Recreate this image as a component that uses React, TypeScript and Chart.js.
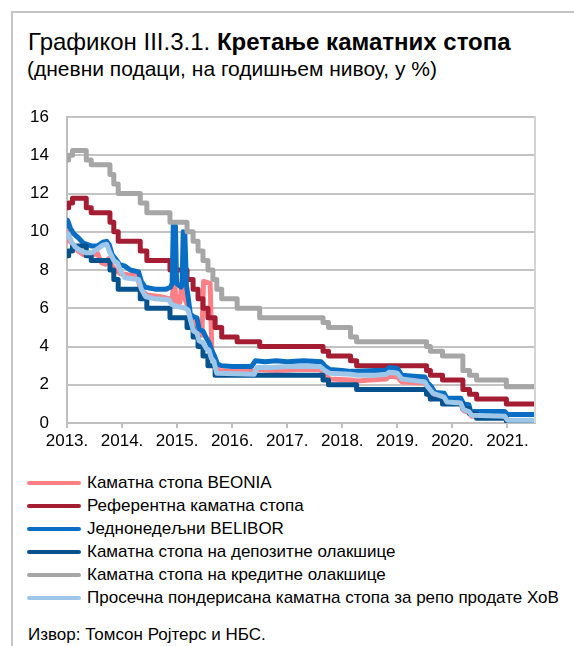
import React, { useEffect, useRef } from "react";
import { Chart, registerables } from "chart.js";

Chart.register(...registerables);

const FONT = "'Liberation Sans', Arial, sans-serif";

const yearTicks = [2013, 2014, 2015, 2016, 2017, 2018, 2019, 2020, 2021];
const xMin = 2013;
const xMax = 2021.5;

// Каматна стопа BEONIA
const beoniaDates = [2013.0, 2013.02, 2013.06, 2013.12, 2013.2, 2013.3, 2013.4, 2013.48, 2013.55, 2013.62, 2013.7, 2013.76, 2013.8, 2013.88, 2013.98, 2014.1, 2014.28, 2014.33, 2014.45, 2014.7, 2014.85, 2014.9, 2014.95, 2014.98, 2015.05, 2015.09, 2015.13, 2015.18, 2015.24, 2015.3, 2015.38, 2015.45, 2015.48, 2015.6, 2015.63, 2015.67, 2015.71, 2015.76, 2016.0, 2016.4, 2016.45, 2016.8, 2017.2, 2017.6, 2017.68, 2017.77, 2018.15, 2018.27, 2018.5, 2018.8, 2018.85, 2019.0, 2019.08, 2019.5, 2019.55, 2019.6, 2019.65, 2019.85, 2019.9, 2020.15, 2020.2, 2020.3, 2020.35, 2020.95, 2021.0, 2021.5];
const beoniaValues = [9.4, 10.0, 9.5, 9.3, 9.0, 8.8, 8.75, 8.8, 8.9, 8.4, 8.3, 8.6, 8.3, 8.0, 7.8, 7.75, 7.7, 7.0, 6.7, 6.6, 6.5, 6.3, 7.6, 6.3, 6.3, 7.5, 6.6, 6.2, 5.6, 5.2, 4.9, 4.6, 7.4, 7.3, 3.8, 3.4, 2.9, 2.75, 2.7, 2.7, 2.8, 2.75, 2.8, 2.8, 2.55, 2.3, 2.25, 2.2, 2.25, 2.3, 2.45, 2.4, 2.15, 2.1, 1.8, 1.25, 1.45, 1.3, 1.05, 1.0, 0.65, 0.55, 0.35, 0.3, 0.12, 0.12];

// Референтна каматна стопа (step: value holds from its date)
const refDates = [2013.0, 2013.03, 2013.1, 2013.35, 2013.44, 2013.78, 2013.85, 2013.93, 2014.33, 2014.45, 2014.87, 2015.18, 2015.29, 2015.38, 2015.47, 2015.56, 2015.69, 2015.81, 2016.09, 2016.5, 2017.65, 2017.75, 2018.15, 2018.26, 2019.53, 2019.6, 2019.82, 2020.19, 2020.31, 2020.44, 2020.98, 2021.5];
const refValues = [11.25, 11.5, 11.75, 11.25, 11.0, 10.5, 10.0, 9.5, 9.0, 8.5, 8.0, 7.5, 7.0, 6.5, 6.0, 5.5, 5.0, 4.5, 4.25, 4.0, 3.75, 3.5, 3.25, 3.0, 2.75, 2.5, 2.25, 1.75, 1.5, 1.25, 1.0, 1.0];

// Једнонедељни BELIBOR
const beliborDates = [2013.0, 2013.01, 2013.06, 2013.12, 2013.2, 2013.3, 2013.45, 2013.55, 2013.65, 2013.72, 2013.77, 2013.82, 2013.88, 2013.95, 2014.05, 2014.15, 2014.3, 2014.35, 2014.42, 2014.6, 2014.8, 2014.88, 2014.91, 2014.93, 2014.97, 2014.99, 2015.07, 2015.09, 2015.11, 2015.14, 2015.17, 2015.2, 2015.24, 2015.3, 2015.36, 2015.4, 2015.47, 2015.52, 2015.58, 2015.63, 2015.68, 2015.73, 2015.8, 2016.0, 2016.35, 2016.42, 2016.6, 2016.8, 2017.0, 2017.3, 2017.62, 2017.68, 2017.77, 2018.0, 2018.15, 2018.3, 2018.6, 2018.8, 2018.85, 2019.0, 2019.08, 2019.3, 2019.5, 2019.55, 2019.62, 2019.68, 2019.85, 2019.9, 2020.15, 2020.2, 2020.3, 2020.33, 2020.95, 2021.0, 2021.5];
const beliborValues = [10.3, 10.6, 10.2, 9.9, 9.7, 9.4, 9.25, 9.25, 9.45, 9.5, 9.3, 8.8, 8.6, 8.3, 8.2, 8.0, 7.9, 7.4, 7.1, 7.0, 7.0, 7.1, 7.3, 10.35, 10.3, 7.3, 7.1, 7.2, 10.0, 9.9, 7.2, 6.6, 5.7, 5.55, 5.5, 4.9, 4.8, 4.5, 4.2, 3.8, 3.5, 3.1, 3.0, 2.95, 2.95, 3.25, 3.2, 3.25, 3.2, 3.25, 3.2, 3.0, 2.8, 2.75, 2.7, 2.7, 2.75, 2.75, 2.9, 2.85, 2.5, 2.45, 2.4, 2.1, 1.9, 1.6, 1.55, 1.3, 1.3, 1.0, 0.95, 0.6, 0.6, 0.45, 0.45];

// Каматна стопа на депозитне олакшице (step)
const depDates = [2013.0, 2013.03, 2013.1, 2013.35, 2013.44, 2013.78, 2013.85, 2013.93, 2014.33, 2014.45, 2014.87, 2015.18, 2015.29, 2015.38, 2015.47, 2015.56, 2015.69, 2017.65, 2017.75, 2018.26, 2019.53, 2019.6, 2019.82, 2020.19, 2020.31, 2020.44, 2020.98, 2021.5];
const depValues = [8.75, 9.0, 9.25, 8.75, 8.5, 8.0, 7.5, 7.0, 6.5, 6.0, 5.5, 5.0, 4.5, 4.0, 3.5, 3.0, 2.5, 2.25, 2.0, 1.75, 1.5, 1.25, 1.0, 0.75, 0.5, 0.25, 0.1, 0.1];

// Каматна стопа на кредитне олакшице (step)
const creditDates = [2013.0, 2013.03, 2013.1, 2013.35, 2013.44, 2013.78, 2013.85, 2013.93, 2014.33, 2014.45, 2014.87, 2015.18, 2015.29, 2015.38, 2015.47, 2015.56, 2015.65, 2015.72, 2015.81, 2016.09, 2016.5, 2017.65, 2017.75, 2018.15, 2018.26, 2019.53, 2019.6, 2019.82, 2020.19, 2020.31, 2020.44, 2020.98, 2021.5];
const creditValues = [13.75, 14.0, 14.25, 13.75, 13.5, 13.0, 12.5, 12.0, 11.5, 11.0, 10.5, 10.0, 9.5, 9.0, 8.5, 8.0, 7.5, 7.0, 6.5, 6.0, 5.5, 5.25, 5.0, 4.5, 4.25, 4.0, 3.75, 3.5, 2.75, 2.5, 2.25, 1.9, 1.9];

// Просечна пондерисана каматна стопа за репо продате ХоВ
const repoDates = [2013.0, 2013.02, 2013.08, 2013.15, 2013.25, 2013.35, 2013.45, 2013.55, 2013.65, 2013.72, 2013.78, 2013.85, 2013.92, 2013.98, 2014.05, 2014.3, 2014.35, 2014.43, 2014.6, 2014.85, 2014.9, 2015.0, 2015.15, 2015.2, 2015.25, 2015.3, 2015.36, 2015.4, 2015.47, 2015.53, 2015.58, 2015.62, 2015.67, 2015.72, 2016.4, 2016.45, 2016.7, 2017.0, 2017.4, 2017.6, 2017.68, 2017.77, 2018.15, 2018.27, 2018.6, 2018.8, 2018.85, 2019.0, 2019.08, 2019.5, 2019.55, 2019.65, 2019.85, 2019.9, 2020.15, 2020.2, 2020.3, 2020.35, 2020.95, 2021.0, 2021.5];
const repoValues = [9.6, 9.9, 9.5, 9.2, 9.0, 8.9, 8.9, 9.1, 9.3, 9.35, 8.9, 8.5, 8.35, 7.9, 7.6, 7.5, 7.0, 6.6, 6.5, 6.45, 6.2, 6.1, 6.0, 5.9, 5.3, 4.8, 4.7, 4.3, 4.2, 3.9, 3.8, 3.4, 3.2, 2.6, 2.55, 2.9, 2.9, 2.95, 2.95, 2.95, 2.75, 2.6, 2.55, 2.5, 2.5, 2.55, 2.65, 2.6, 2.3, 2.15, 1.9, 1.55, 1.35, 1.1, 1.05, 0.7, 0.6, 0.4, 0.35, 0.15, 0.15];

const seriesLabels = [
  "Каматна стопа BEONIA",
  "Референтна каматна стопа",
  "Једнонедељни BELIBOR",
  "Каматна стопа на депозитне олакшице",
  "Каматна стопа на кредитне олакшице",
  "Просечна пондерисана каматна стопа за репо продате ХоВ",
];
const seriesColors = ["#ff7f87", "#a51d32", "#0a6fc4", "#06528f", "#a6a6a6", "#9dc6e8"];

function toPts(xs: number[], ys: number[]) {
  return xs.map((x, i) => ({ x, y: ys[i] }));
}

export default function App() {
  const canvasRef = useRef<HTMLCanvasElement | null>(null);

  useEffect(() => {
    if (!canvasRef.current) return;
    Chart.defaults.font.family = FONT;
    const sets = [
      { d: toPts(beoniaDates, beoniaValues), stepped: false, order: 5 },
      { d: toPts(refDates, refValues), stepped: true, order: 4 },
      { d: toPts(beliborDates, beliborValues), stepped: false, order: 3 },
      { d: toPts(depDates, depValues), stepped: true, order: 2 },
      { d: toPts(creditDates, creditValues), stepped: true, order: 1 },
      { d: toPts(repoDates, repoValues), stepped: false, order: 0 },
    ];
    const rightBorder = {
      id: "rightBorder",
      afterDraw(chart: any) {
        const { ctx, chartArea } = chart;
        ctx.save();
        ctx.strokeStyle = "#d4d4d4";
        ctx.lineWidth = 2;
        ctx.beginPath();
        ctx.moveTo(chartArea.right, chartArea.top - 1);
        ctx.lineTo(chartArea.right, chartArea.bottom);
        ctx.stroke();
        ctx.restore();
      },
    };
    const chart = new Chart(canvasRef.current, {
      type: "line",
      data: {
        datasets: sets.map((s, i) => ({
          label: seriesLabels[i],
          data: s.d,
          borderColor: seriesColors[i],
          backgroundColor: seriesColors[i],
          borderWidth: 5,
          pointRadius: 0,
          tension: 0,
          stepped: s.stepped,
          order: s.order,
          borderJoinStyle: "round",
          borderCapStyle: "butt",
          fill: false,
        })),
      },
      options: {
        animation: false,
        responsive: false,
        devicePixelRatio: 1,
        layout: { padding: { left: 0, right: 39, top: 17, bottom: 0 } },
        plugins: { legend: { display: false }, tooltip: { enabled: false } },
        scales: {
          x: {
            type: "linear",
            min: xMin,
            max: xMax,
            afterBuildTicks: (scale: any) => {
              scale.ticks = yearTicks.map((v) => ({ value: v }));
            },
            afterFit: (scale: any) => {
              scale.height = 37;
            },
            ticks: {
              autoSkip: false,
              maxRotation: 0,
              padding: 3,
              color: "#000",
              font: { size: 17 },
              callback: (v: any) => `${v}.`,
            },
            grid: {
              drawOnChartArea: false,
              drawTicks: true,
              tickLength: 5,
              color: "#bfbfbf",
              lineWidth: 2,
            },
            border: { display: true, color: "#bfbfbf", width: 2 },
          },
          y: {
            min: 0,
            max: 16,
            afterFit: (scale: any) => {
              scale.width = 67;
              scale.paddingTop = 8;
              scale.paddingBottom = 8;
            },
            ticks: {
              stepSize: 2,
              padding: 18,
              color: "#000",
              font: { size: 17 },
            },
            grid: { color: "#c3c3c3", lineWidth: 2, drawTicks: false },
            border: { display: true, color: "#bfbfbf", width: 2 },
          },
        },
      },
      plugins: [rightBorder],
    } as any);
    return () => chart.destroy();
  }, []);

  const legendTops = [483, 506, 529, 552, 575, 598];

  return (
    <div
      style={{
        position: "absolute",
        left: 0,
        top: 0,
        width: 574,
        height: 646,
        overflow: "hidden",
        background: "#fff",
        fontFamily: FONT,
        color: "#000",
      }}
    >
      <div
        style={{
          position: "absolute",
          left: 11,
          top: 11,
          width: 700,
          height: 700,
          borderLeft: "2px solid #c4c4c4",
          borderTop: "2px solid #c4c4c4",
        }}
      />
      <div
        style={{
          position: "absolute",
          left: 28,
          top: 28,
          fontSize: 24,
          lineHeight: "28px",
          whiteSpace: "nowrap",
        }}
      >
        Графикон III.3.1. <b>Кретање каматних стопа</b>
      </div>
      <div
        style={{
          position: "absolute",
          left: 27,
          top: 57,
          fontSize: 21,
          lineHeight: "24px",
          whiteSpace: "nowrap",
        }}
      >
        (дневни подаци, на годишњем нивоу, у %)
      </div>
      <canvas
        ref={canvasRef}
        width={574}
        height={360}
        style={{ position: "absolute", left: 0, top: 100, width: 574, height: 360, display: "block" }}
      />
      {seriesLabels.map((lab, i) => (
        <div
          key={lab}
          style={{
            position: "absolute",
            left: 27,
            top: legendTops[i] - 11,
            height: 22,
            display: "flex",
            alignItems: "center",
            whiteSpace: "nowrap",
            fontSize: 17,
          }}
        >
          <span
            style={{
              display: "inline-block",
              width: 54,
              height: 4,
              borderRadius: 2,
              background: seriesColors[i],
              marginRight: 6,
            }}
          />
          <span>{lab}</span>
        </div>
      ))}
      <div
        style={{
          position: "absolute",
          left: 28,
          top: 624,
          fontSize: 17,
          lineHeight: "22px",
          whiteSpace: "nowrap",
        }}
      >
        Извор: Томсон Ројтерс и НБС.
      </div>
    </div>
  );
}
